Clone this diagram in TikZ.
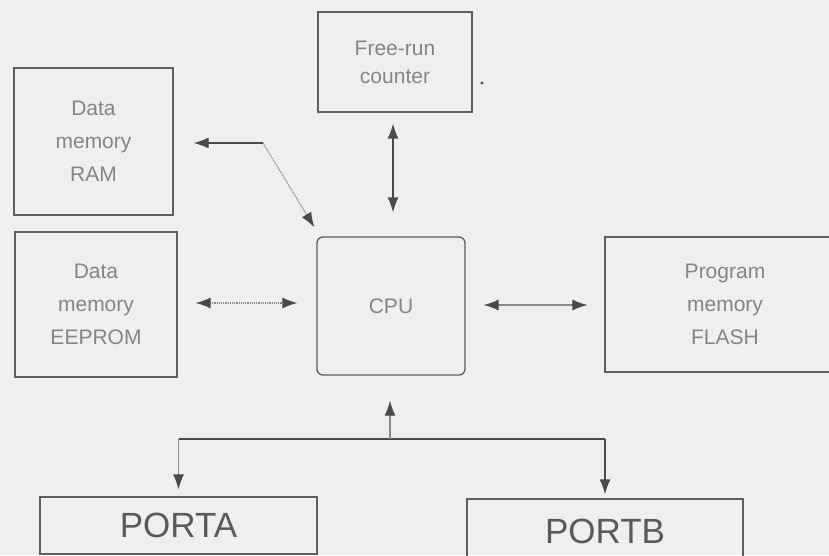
\documentclass[tikz,border=0pt]{standalone}
\usepackage{fontspec}
\setmainfont{Liberation Sans}
\usetikzlibrary{arrows.meta}

\definecolor{paper}{HTML}{EFEFEE}
\definecolor{edge}{HTML}{5E5E5E}
\definecolor{label}{HTML}{858585}
\definecolor{biglabel}{HTML}{5A5A5A}
\definecolor{wire}{HTML}{4A4A4A}
\definecolor{lightwire}{HTML}{8A8A8A}

\tikzset{
  block/.style={draw=edge, line width=1.3pt, inner sep=0pt, text=label,
    align=center, font=\fontsize{21}{33}\selectfont},
  portblock/.style={block, text=biglabel, font=\fontsize{35}{40}\selectfont},
  head/.tip={Latex[length=15pt,width=11pt,color=wire]},
  tip/.style={-head},
  tips/.style={head-head},
  wiredark/.style={draw=wire, line width=1.3pt},
  wirelight/.style={draw=lightwire, line width=1.1pt},
  wiredot/.style={draw=lightwire, line width=1.2pt, densely dotted},
}

\begin{document}
\begin{tikzpicture}[x=1pt,y=-1pt]
  \fill[paper] (0,0) rectangle (829,555);
  \useasboundingbox (0,0) rectangle (829,555);
  \clip (0,0) rectangle (829,555);

  % blocks
  \node[block, minimum width=154pt, minimum height=100pt,
        font=\fontsize{21}{28}\selectfont] (frc) at (395,62) {Free-run\\counter};
  \node[block, minimum width=159pt, minimum height=147pt] (ram) at (93.5,141.5) {Data\\memory\\RAM};
  \node[block, minimum width=162pt, minimum height=145pt] (eep) at (96,304.5) {Data\\memory\\EEPROM};
  \node[block, rounded corners=6pt, minimum width=148pt, minimum height=138pt] (cpu) at (391,306) {CPU};
  \node[block, minimum width=240pt, minimum height=135pt] (flash) at (725,304.5) {Program\\memory\\FLASH};
  \node[portblock, minimum width=277pt, minimum height=57pt] (pa) at (178.5,525.5) {PORTA};
  \node[portblock, minimum width=276pt, minimum height=64pt] (pb) at (605,531) {PORTB};

  % stray mark beside the counter
  \fill[wire] (482,83) circle (1.6pt);

  % counter <-> CPU
  \draw[wiredark, tips] ([xshift=-2pt,yshift=-11pt]frc.south) -- ([xshift=2pt,yshift=24pt]cpu.north);

  % RAM <-> CPU via a bend point
  \coordinate (ramknee) at (263,143);
  \draw[wiredark, tip] (ramknee) -- ([xshift=20pt]ram.east |- ramknee);
  \draw[wiredot, tip] (ramknee) -- ([xshift=-2pt,yshift=9pt]cpu.north west);

  % EEPROM <-> CPU
  \coordinate (eepend) at ([xshift=18pt,yshift=1.5pt]eep.east);
  \draw[wiredot, tips] (eepend) -- ([xshift=-19pt]cpu.west |- eepend);

  % CPU <-> FLASH
  \coordinate (flashend) at ([xshift=-17pt,yshift=-0.5pt]flash.west);
  \draw[wirelight, tips] ([xshift=18pt]cpu.east |- flashend) -- (flashend);

  % bus to the ports
  \coordinate (busmid) at (390,439);
  \coordinate (busleft) at (pa.north |- busmid);
  \coordinate (busright) at (pb.north |- busmid);
  \draw[wiredark] (busleft) -- (busright);
  \draw[wirelight, tip] (busmid) -- ([xshift=-1pt,yshift=-25pt]cpu.south);
  \draw[wirelight, tip] (busleft) -- ([yshift=7pt]pa.north);
  \draw[wiredark, tip] (busright) -- ([yshift=4pt]pb.north);
\end{tikzpicture}
\end{document}
